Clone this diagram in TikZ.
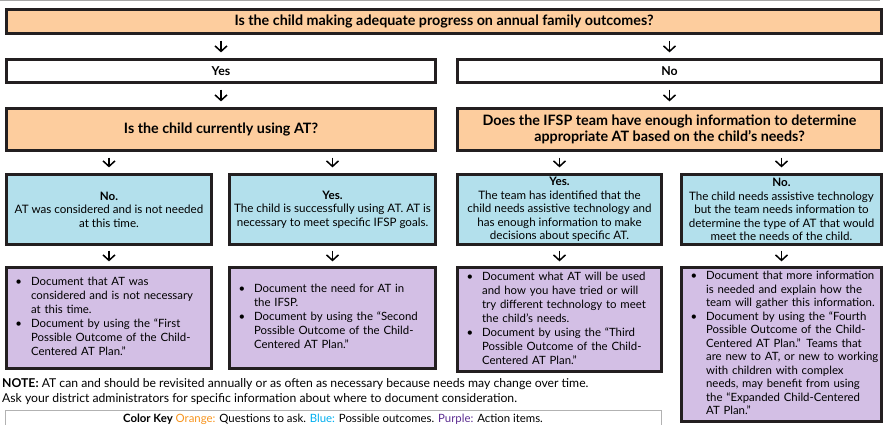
\documentclass[tikz,border=0pt]{standalone}
\usepackage{fontspec}
\setmainfont{Lato}
\usetikzlibrary{arrows.meta}
\definecolor{qorange}{HTML}{FDCD9E}
\definecolor{oblue}{HTML}{B3E0EC}
\definecolor{apurple}{HTML}{D3BFE5}
\definecolor{bline}{HTML}{231F20}
\definecolor{korange}{HTML}{F7941D}
\definecolor{kblue}{HTML}{00AEEF}
\definecolor{kpurple}{HTML}{5C2D91}
\newcommand{\bluefont}{\fontsize{11.6}{13.6}\selectfont}
\newcommand{\purpfont}{\fontsize{11.4}{14}\selectfont}
\newcommand{\titlefont}{\fontsize{14.3}{16}\selectfont\bfseries}
\tikzset{
  box/.style={draw=bline, line width=3.2pt, inner sep=0pt, align=center},
  qbox/.style={box, fill=qorange, font=\titlefont},
  ynbox/.style={box, fill=white, font=\fontsize{12.3}{14}\selectfont\bfseries},
  obox/.style={box, fill=oblue, font=\bluefont},
  pbox/.style={box, fill=apurple, font=\purpfont, align=left, inner xsep=9pt},
  arr/.style={line width=1.5pt, -{Straight Barb[length=5.5pt,width=12pt,line width=1.5pt]}, shorten <=5.5pt, shorten >=5.5pt},
  plain/.style={inner sep=0pt, font=\fontsize{12.2}{15}\selectfont}
}
\newcommand{\bul}{\textbullet}
\begin{document}
\begin{tikzpicture}[x=1pt,y=-1pt]
\useasboundingbox (0,0) rectangle (886,425);
\clip (0,0) rectangle (886,425);
\draw[gray!70, line width=1.2pt] (0,0.6) -- (880,0.6);

\node[qbox, minimum width=875pt, minimum height=24pt] (q1) at (444,21.5)
  {Is the child making adequate progress on annual family outcomes?};

\node[ynbox, minimum width=429pt, minimum height=23pt] (yes) at (221,71) {Yes};
\node[ynbox, minimum width=424pt, minimum height=23pt] (no) at (669.5,71) {No};

\node[qbox, minimum width=429pt, minimum height=42pt] (q2l) at (221,129.5)
  {Is the child currently using AT?};
\node[qbox, minimum width=424pt, minimum height=42pt] (q2r) at (669.5,129.5)
  {Does the IFSP team have enough information to determine\\appropriate AT based on the child’s needs?};

\node[obox, minimum width=205pt, minimum height=70pt] (b1) at (109,209.5)
  {\textbf{No.}\\AT was considered and is not needed\\at this time.};
\node[obox, minimum width=206pt, minimum height=70pt] (b2) at (332.5,209.5)
  {\textbf{Yes.}\\The child is successfully using AT. AT is\\necessary to meet specific IFSP goals.};
\node[obox, minimum width=204pt, minimum height=70pt] (b3) at (559.5,209.5)
  {\textbf{Yes.}\\The team has identified that the\\child needs assistive technology and\\has enough information to make\\decisions about specific AT.};
\node[obox, minimum width=200pt, minimum height=70pt] (b4) at (781.5,209.5)
  {\textbf{No.}\\The child needs assistive technology\\but the team needs information to\\determine the type of AT that would\\meet the needs of the child.};

\node[pbox, text width=187pt, minimum height=101pt] (p1) at (109,318)
  {\begin{tabular}{@{}l@{\hspace{9pt}}l@{}}
   \bul & Document that AT was\\
        & considered and is not necessary\\
        & at this time.\\
   \bul & Document by using the “First\\
        & Possible Outcome of the Child-\\
        & Centered AT Plan.”
   \end{tabular}};
\node[pbox, text width=188pt, minimum height=101pt] (p2) at (332.5,318)
  {\begin{tabular}{@{}l@{\hspace{9pt}}l@{}}
   \bul & Document the need for AT in\\
        & the IFSP.\\
   \bul & Document by using the “Second\\
        & Possible Outcome of the Child-\\
        & Centered AT Plan.”
   \end{tabular}};
\node[pbox, text width=186pt, minimum height=104pt] (p3) at (559.5,319.5)
  {\begin{tabular}{@{}l@{\hspace{9pt}}l@{}}
   \bul & Document what AT will be used\\
        & and how you have tried or will\\
        & try different technology to meet\\
        & the child’s needs.\\
   \bul & Document by using the “Third\\
        & Possible Outcome of the Child-\\
        & Centered AT Plan.”
   \end{tabular}};
\node[pbox, text width=182pt, minimum height=154pt, font=\fontsize{11.4}{13.5}\selectfont] (p4) at (781.5,344.5)
  {\begin{tabular}{@{}l@{\hspace{9pt}}l@{}}
   \bul & Document that more information\\
        & is needed and explain how the\\
        & team will gather this information.\\
   \bul & Document by using the “Fourth\\
        & Possible Outcome of the Child-\\
        & Centered AT Plan.” Teams that\\
        & are new to AT, or new to working\\
        & with children with complex\\
        & needs, may benefit from using\\
        & the “Expanded Child-Centered\\
        & AT Plan.”
   \end{tabular}};

\draw[arr] (q1.south -| yes.north) -- (yes.north);
\draw[arr] (q1.south -| no.north) -- (no.north);
\draw[arr] (yes.south) -- (q2l.north);
\draw[arr] (no.south) -- (q2r.north);
\draw[arr] (q2l.south -| b1.north) -- (b1.north);
\draw[arr] (q2l.south -| b2.north) -- (b2.north);
\draw[arr] (q2r.south -| b3.north) -- (b3.north);
\draw[arr] (q2r.south -| b4.north) -- (b4.north);
\draw[arr, shorten <=4.5pt, shorten >=4.5pt] (b1.south) -- (p1.north);
\draw[arr, shorten <=4.5pt, shorten >=4.5pt] (b2.south) -- (p2.north);
\draw[arr, shorten <=4.5pt, shorten >=4.5pt] (b3.south) -- (p3.north);
\draw[arr, shorten <=4.5pt, shorten >=4.5pt] (b4.south) -- (p4.north);

\node[plain, anchor=west] (note1) at (2,384)
  {\textbf{NOTE:} AT can and should be revisited annually or as often as necessary because needs may change over time.};
\node[plain, anchor=west] (note2) at (2,399)
  {Ask your district administrators for specific information about where to document consideration.};

\draw[gray!60, line width=1pt] (5,445) -- (5,410) -- (661,410) -- (661,445);
\node[plain, font=\fontsize{11.4}{14}\selectfont] (key) at (333,419.5)
  {\textbf{Color Key} \textcolor{korange}{Orange:} Questions to ask. \textcolor{kblue}{Blue:} Possible outcomes. \textcolor{kpurple}{Purple:} Action items.};
\end{tikzpicture}
\end{document}
